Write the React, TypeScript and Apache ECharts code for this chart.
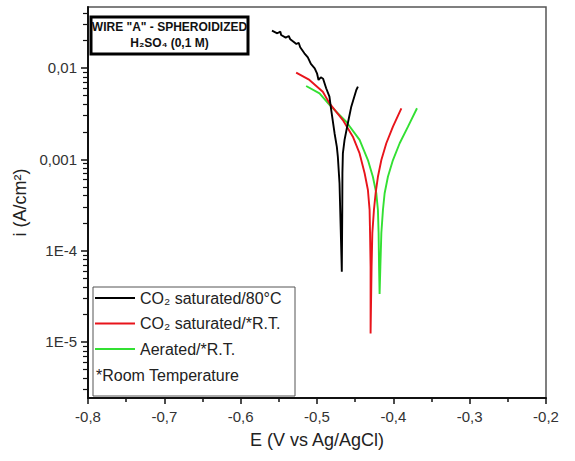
import React, { useEffect, useRef } from "react";
import * as echarts from "echarts";

// Black: CO2 saturated / 80°C  (E in V vs Ag/AgCl, i in A/cm²)
const blackE = [-0.559, -0.552, -0.548, -0.547, -0.541, -0.537, -0.535, -0.527, -0.524, -0.522, -0.5165, -0.512, -0.508, -0.503, -0.5, -0.498, -0.495, -0.492, -0.488, -0.4837, -0.4814, -0.477, -0.474, -0.4727, -0.4705, -0.4689, -0.4675, -0.4669, -0.4667, -0.4661, -0.4639, -0.4596, -0.4551, -0.4485, -0.4464];
const blackI = [0.0256, 0.024, 0.025, 0.023, 0.0215, 0.0224, 0.0206, 0.0183, 0.0189, 0.0169, 0.0145, 0.0131, 0.0111, 0.00993, 0.00875, 0.0074, 0.00791, 0.00763, 0.006, 0.00485, 0.00347, 0.00193, 0.00137, 0.00107, 0.000546, 0.000168, 0.0000587, 0.000279, 0.000703, 0.00116, 0.00163, 0.00248, 0.00377, 0.00574, 0.00624];

// Red: CO2 saturated / R.T.
const redE = [-0.5273, -0.5099, -0.4924, -0.4836, -0.4661, -0.453, -0.4442, -0.4376, -0.4333, -0.4311, -0.4305, -0.4298, -0.4298, -0.4285, -0.4275, -0.4254, -0.4232, -0.4202, -0.4157, -0.4092, -0.4005, -0.3895];
const redI = [0.00889, 0.0074, 0.0055, 0.0041, 0.00269, 0.00177, 0.00116, 0.000703, 0.000461, 0.000279, 0.000156, 0.0000661, 0.0000124, 0.0000661, 0.000156, 0.000279, 0.000425, 0.000644, 0.000982, 0.0015, 0.00228, 0.00362];

// Green: Aerated / R.T.
const greenE = [-0.5142, -0.4967, -0.4836, -0.4617, -0.4442, -0.4333, -0.4268, -0.4223, -0.4202, -0.4193, -0.4187, -0.418, -0.417, -0.4157, -0.4136, -0.4114, -0.4071, -0.4005, -0.3917, -0.3808, -0.369];
const greenI = [0.00635, 0.00528, 0.00394, 0.00258, 0.00163, 0.000982, 0.000644, 0.000425, 0.000279, 0.000156, 0.0000661, 0.0000335, 0.0000661, 0.000156, 0.000279, 0.000425, 0.000644, 0.000982, 0.0015, 0.00228, 0.00362];

const seriesNames = ["CO₂ saturated/80°C", "CO₂ saturated/*R.T.", "Aerated/*R.T."];
const seriesColors = ["#000000", "#e8141b", "#33e033"];

const yMajor = [0.00001, 0.0001, 0.001, 0.01];
const yMajorLabels = ["1E-5", "1E-4", "0,001", "0,01"];

const Y_MIN = -5.614;
const Y_MAX = -1.332;

function pairs(e: number[], i: number[]) {
  return e.map((v, k) => [v, Math.log10(i[k])]);
}

export default function App() {
  const ref = useRef<HTMLDivElement>(null);
  useEffect(() => {
    if (!ref.current) return;
    const chart = echarts.init(ref.current, undefined, { renderer: "svg" });
    const majorLog = yMajor.map((v) => Math.log10(v));
    const minorLog: number[] = [];
    for (let n = -6; n <= -2; n++) {
      for (let k = 2; k <= 9; k++) {
        const v = Math.log10(k) + n;
        if (v > Y_MIN && v < Y_MAX) minorLog.push(v);
      }
    }
    const labelMap = new Map<string, string>();
    majorLog.forEach((v, k) => labelMap.set(v.toFixed(3), yMajorLabels[k]));
    const datasets = [pairs(blackE, blackI), pairs(redE, redI), pairs(greenE, greenI)];
    chart.setOption({
      animation: false,
      grid: {
        left: 88,
        right: 29,
        top: 7,
        bottom: 63,
        show: true,
        borderColor: "#555",
        borderWidth: 1.5,
        backgroundColor: "transparent",
      },
      xAxis: {
        type: "value",
        min: -0.8,
        max: -0.2,
        interval: 0.1,
        name: "E (V vs Ag/AgCl)",
        nameLocation: "middle",
        nameGap: 33,
        nameTextStyle: { fontSize: 18, color: "#222", fontFamily: "Liberation Sans" },
        axisLine: { show: true, onZero: false, lineStyle: { color: "#111", width: 2 } },
        axisTick: { show: true, length: 6, lineStyle: { color: "#111", width: 1.5 } },
        minorTick: { show: true, splitNumber: 2, length: 4, lineStyle: { color: "#111", width: 1.5 } },
        splitLine: { show: false },
        axisLabel: {
          fontSize: 15,
          color: "#333",
          margin: 11,
          fontFamily: "Liberation Sans",
          formatter: (v: number) => v.toFixed(1).replace(".", ","),
        },
      },
      yAxis: [
        {
          type: "value",
          min: Y_MIN,
          max: Y_MAX,
          name: "i (A/cm²)",
          nameLocation: "middle",
          nameGap: 57,
          nameTextStyle: { fontSize: 18, color: "#222", fontFamily: "Liberation Sans" },
          axisLine: { show: true, onZero: false, lineStyle: { color: "#111", width: 2 } },
          axisTick: { show: true, length: 7, customValues: majorLog, lineStyle: { color: "#111", width: 1.5 } },
          splitLine: { show: false },
          axisLabel: {
            fontSize: 15,
            color: "#333",
            margin: 11,
            fontFamily: "Liberation Sans",
            customValues: majorLog,
            formatter: (v: number) => labelMap.get(v.toFixed(3)) ?? "",
          },
        },
        {
          type: "value",
          min: Y_MIN,
          max: Y_MAX,
          position: "left",
          axisLine: { show: false },
          axisLabel: { show: false },
          splitLine: { show: false },
          axisTick: { show: true, length: 5, customValues: minorLog, lineStyle: { color: "#111", width: 1.2 } },
        },
      ],
      legend: {
        orient: "vertical",
        left: 95,
        top: 290,
        icon: "rect",
        itemWidth: 40,
        itemHeight: 2,
        itemGap: 9.5,
        padding: 0,
        textStyle: { fontSize: 16, color: "#222", fontFamily: "Liberation Sans" },
        data: seriesNames,
      },
      series: datasets.map((d, k) => ({
        type: "line",
        name: seriesNames[k],
        data: d,
        yAxisIndex: 0,
        showSymbol: false,
        symbol: "none",
        smooth: false,
        lineStyle: { color: seriesColors[k], width: 1.9 },
        itemStyle: { color: seriesColors[k] },
        z: 3 - k,
      })),
      graphic: [
        {
          type: "rect",
          shape: { x: 93, y: 287, width: 202, height: 109 },
          style: { fill: "none", stroke: "#555", lineWidth: 1 },
          z: 10,
        },
        {
          type: "text",
          x: 96,
          y: 375,
          style: {
            text: "*Room Temperature",
            fontSize: 16,
            fill: "#222",
            fontFamily: "Liberation Sans",
            verticalAlign: "middle",
          },
          z: 10,
        },
        {
          type: "rect",
          shape: { x: 91, y: 17, width: 157, height: 37 },
          style: { fill: "#fff", stroke: "#000", lineWidth: 3 },
          z: 10,
        },
        {
          type: "text",
          x: 169.5,
          y: 27,
          style: {
            text: 'WIRE "A" - SPHEROIDIZED',
            fontSize: 12,
            fontWeight: "bold",
            fill: "#111",
            fontFamily: "Liberation Sans",
            align: "center",
            verticalAlign: "middle",
          },
          z: 11,
        },
        {
          type: "text",
          x: 169.5,
          y: 43,
          style: {
            text: "H₂SO₄ (0,1 M)",
            fontSize: 12,
            fontWeight: "bold",
            fill: "#111",
            fontFamily: "Liberation Sans",
            align: "center",
            verticalAlign: "middle",
          },
          z: 11,
        },
      ],
    });
    return () => chart.dispose();
  }, []);
  return <div ref={ref} style={{ position: "absolute", left: 0, top: 0, width: 575, height: 461 }} />;
}
